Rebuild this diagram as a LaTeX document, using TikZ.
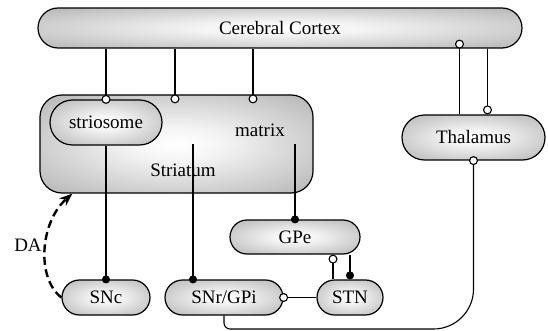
\documentclass[tikz,border=0pt]{standalone}
\usepackage{fontspec}
\setmainfont{Liberation Serif}
\usepackage{tikz}
\usetikzlibrary{arrows.meta, shapes.misc}
\pgfdeclareradialshading{nucshade}{\pgfpoint{0bp}{0bp}}{color(0bp)=(white); color(8bp)=(white!96!black); color(50bp)=(black!42); color(60bp)=(black!42)}

\begin{document}
\begin{tikzpicture}[x=1pt,y=1pt,yscale=-1,
    font=\fontsize{19}{22}\selectfont,
    nucbody/.style={draw, line width=1.2pt, shading=nucshade, inner sep=0pt},
    pill/.style={nucbody, rounded rectangle},
    wire/.style={line width=1.1pt},
    inh/.style={wire, -{Circle[fill=white, length=9pt, width=9pt]}},
    exc/.style={wire, -{Circle[length=8pt, width=8pt]}}]
    \useasboundingbox (0,0) rectangle (548,331);
    % nuclei
    \node [pill, minimum width=484pt, minimum height=40pt] (ctx) at (280,28) {Cerebral Cortex};
    \node [nucbody, rounded corners=22pt, minimum width=273pt, minimum height=98pt] (stri) at (176.5,144) {};
    \node [pill, minimum width=112pt, minimum height=45pt] (sio) at (106,122.5) {striosome};
    \node (mtx) at (260,130) {matrix};
    \node (strl) at (183,170) {Striatum};
    \node [pill, minimum width=143pt, minimum height=45pt] (thal) at (473.5,137.5) {Thalamus};
    \node [pill, minimum width=130pt, minimum height=34pt] (gpe) at (295,237) {GPe};
    \node [pill, minimum width=88pt, minimum height=35pt] (snc) at (106,297.5) {SNc};
    \node [pill, minimum width=118pt, minimum height=35pt] (snr) at (224,297.5) {SNr/GPi};
    \node [pill, minimum width=66pt, minimum height=35pt] (stn) at (350,297.5) {STN};
    \node (da) at (28,245) {DA};
    % cortex inputs
    \draw [inh, shorten >=-4.5pt] (ctx.south -| sio.north) -- (sio.north);
    \draw [inh, shorten >=-9pt] (ctx.south -| 175,0) -- (stri.north -| 175,0);
    \draw [inh, shorten >=-9pt] (ctx.south -| 253,0) -- (stri.north -| 253,0);
    \draw [inh, shorten >=-9pt] ([xshift=-14pt]thal.north) -- ([xshift=-14pt]thal.north |- ctx.south);
    \draw [inh] ([xshift=14pt]thal.north |- ctx.south) -- ([xshift=14pt]thal.north);
    % striatal outputs
    \draw [exc, shorten >=-4pt] (sio.south) -- (snc.north);
    \draw [exc, shorten >=-4pt] (stri.center -| 193,0) -- (snr.north -| 193,0);
    \draw [exc, shorten >=-4pt] (stri.center -| gpe.north) -- (gpe.north);
    % GPe, STN, SNr/GPi
    \draw [inh] ([xshift=-17pt]stn.north) -- ([xshift=-17pt]stn.north |- gpe.south);
    \draw [exc] (gpe.south -| stn.north) -- (stn.north);
    \draw [inh, shorten >=-4.5pt] (stn.west) -- (snr.east);
    \draw [wire, {Circle[fill=white, length=9pt, width=9pt]}-, shorten <=-4.5pt] (thal.south)
        [rounded corners=40pt] -- (thal.south |- 0,329)
        [rounded corners=6pt] -- (snr.south |- 0,329) -- (snr.south);
    % dopamine
    \draw [line width=2.4pt, dash pattern=on 8pt off 4.5pt, -{Stealth[length=13pt, width=10pt]}]
        (snc.west) .. controls (36,278) and (40,222) .. ([xshift=33pt]stri.south west);
\end{tikzpicture}
\end{document}
